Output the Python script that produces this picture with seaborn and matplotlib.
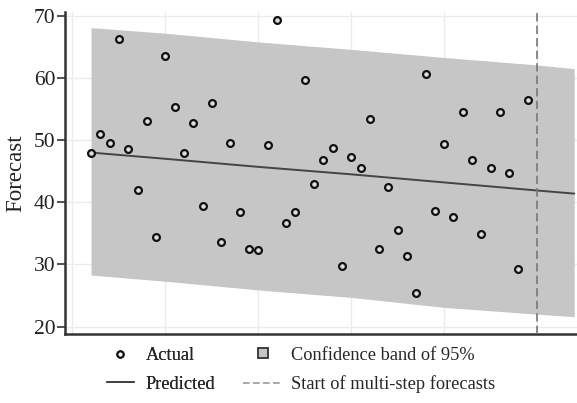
import numpy as np
import pandas as pd
import seaborn as sns
import matplotlib.pyplot as plt
from matplotlib.lines import Line2D

# observed series, time index 2..49
actual_t = list(range(2, 50))
actual_y = [48.0, 51.0, 49.5, 66.3, 48.6, 41.9, 53.0, 34.4, 63.6, 55.4,
            47.9, 52.7, 39.4, 56.0, 33.6, 49.6, 38.4, 32.5, 32.4, 49.2,
            69.4, 36.7, 38.4, 59.7, 42.9, 46.8, 48.8, 29.7, 47.3, 45.5,
            53.4, 32.5, 42.5, 35.5, 31.3, 25.4, 60.6, 38.6, 49.4, 37.7,
            54.5, 46.8, 34.9, 45.5, 54.6, 44.7, 29.2, 56.4]

# fitted line and 95% band, read at a few knots
pred_t = [2, 10, 20, 30, 40, 50, 54]
pred_y = [48.0, 47.0, 45.7, 44.5, 43.2, 41.9, 41.4]
band_hi = [68.1, 67.2, 65.8, 64.6, 63.3, 62.1, 61.5]
band_lo = [28.3, 27.3, 25.9, 24.7, 23.1, 22.0, 21.6]

forecast_start = 50
y_ticks = [20, 30, 40, 50, 60, 70]
x_grid = [0, 10, 20, 30, 40, 50]

sns.set_style('white')
plt.rcParams['font.family'] = ['Liberation Serif', 'DejaVu Serif']

obs = pd.DataFrame({'t': actual_t, 'y': actual_y})
fit = pd.DataFrame({'t': pred_t, 'y': pred_y, 'lo': band_lo, 'hi': band_hi})

fig = plt.figure(figsize=(5.77, 4.03), dpi=100)
ax = fig.add_axes([0.1127, 0.171, 0.8873, 0.799])

ax.fill_between(fit['t'], fit['lo'], fit['hi'], color='#c6c6c6', lw=0, zorder=1)
sns.lineplot(data=fit, x='t', y='y', color='#444444', lw=1.4, ax=ax, zorder=3)
ax.axvline(forecast_start, color='#777777', ls=(0, (5, 2.5)), lw=1.2, zorder=3)
sns.scatterplot(data=obs, x='t', y='y', ax=ax, s=24, marker='o',
                facecolor='#dddddd', edgecolor='#111111', linewidth=1.6, zorder=4)

ax.set_xlim(-0.8, 54.3)
ax.set_ylim(18.8, 70.6)
ax.set_yticks(y_ticks)
ax.set_xticks(x_grid)
ax.set_xticklabels([])
ax.tick_params(axis='x', length=0)
ax.tick_params(axis='y', length=6, width=1.2, color='#333333', labelsize=15.5,
               pad=1, left=True, labelcolor='#222222')
ax.grid(True, color='#ebebeb', lw=1, zorder=0)
ax.set_axisbelow(True)
ax.set_xlabel('')
ax.set_ylabel('Forecast', fontsize=16.5, labelpad=5, color='#222222')
for side in ['top', 'right']:
    ax.spines[side].set_visible(False)
for side in ['left', 'bottom']:
    ax.spines[side].set_color('#333333')
    ax.spines[side].set_linewidth(1.8)

# legend: two separate columns, each with its own handle length
col1 = [Line2D([], [], ls='none', marker='o', ms=4.5, mfc='white', mec='#111111', mew=1.5),
        Line2D([], [], color='#444444', lw=1.4)]
col2 = [Line2D([], [], ls='none', marker='s', ms=7, mfc='#c6c6c6', mec='#333333', mew=1.3),
        Line2D([], [], color='#999999', ls=(0, (4, 2)), lw=1.2)]
leg_kw = dict(frameon=False, fontsize=13.2, labelspacing=0.62, borderpad=0,
              borderaxespad=0, loc='center left')
leg1 = fig.legend(col1, ['Actual', 'Predicted'], bbox_to_anchor=(107 / 577, 0.082),
                  handlelength=1.45, handletextpad=0.65, **leg_kw)
fig.add_artist(leg1)
fig.legend(col2, ['Confidence band of 95%', 'Start of multi-step forecasts'],
           bbox_to_anchor=(243 / 577, 0.082), handlelength=2.2, handletextpad=0.4,
           **leg_kw)

fig.savefig('out.png', dpi=100)
